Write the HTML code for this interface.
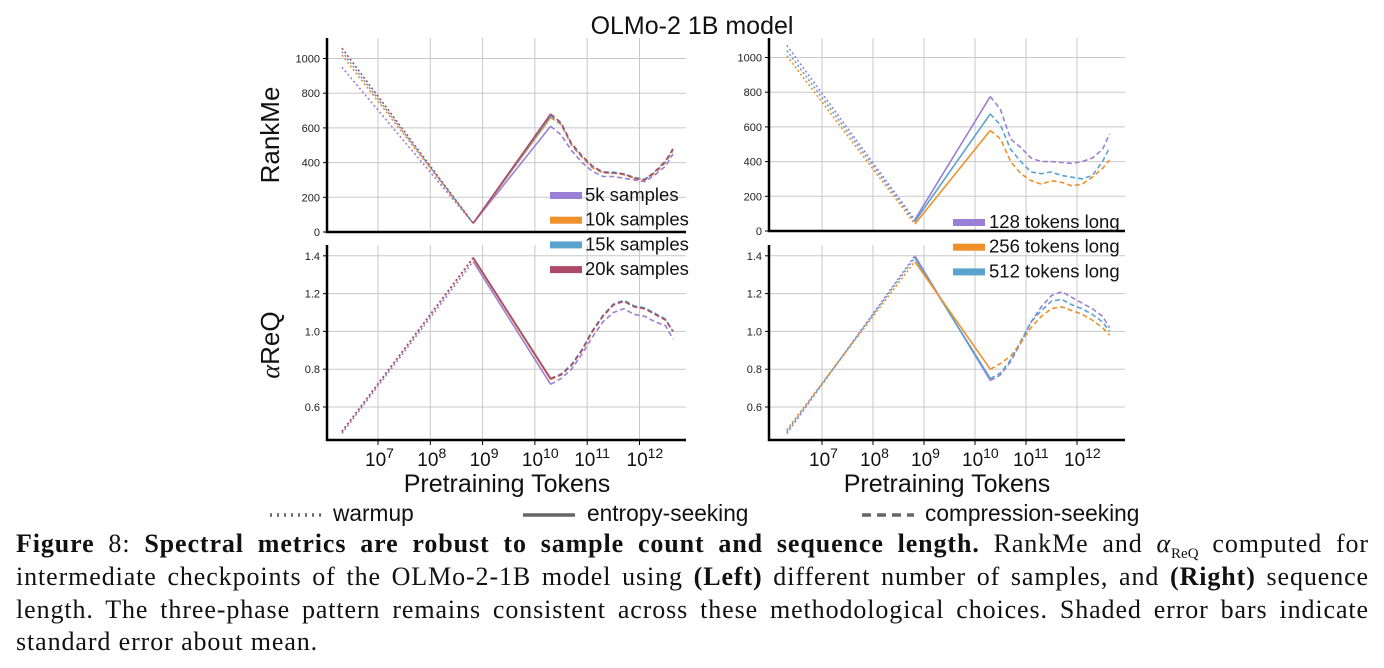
<!DOCTYPE html>
<html><head><meta charset="utf-8"><style>
body{margin:0;background:#fff;width:1384px;height:668px;overflow:hidden;font-family:"Liberation Sans",sans-serif}
svg{position:absolute;left:0;top:0}
.cap{position:absolute;left:16px;top:528px;width:1353px;font-family:"Liberation Serif",serif;font-size:26px;letter-spacing:0.9px;line-height:32.8px;color:#111}
.cap div{white-space:nowrap;text-align:justify;text-align-last:justify;height:32.8px}
.cap div.last{text-align-last:left}
.cap sub{font-size:15px;line-height:0;letter-spacing:0}
</style></head><body>
<svg id="chart" width="1384" height="530"></svg>
<div class="cap"><div><b>Figure</b> 8: <b>Spectral metrics are robust to sample count and sequence length.</b> RankMe and <i>α</i><sub>ReQ</sub> computed for</div><div>intermediate checkpoints of the OLMo-2-1B model using <b>(Left)</b> different number of samples, and <b>(Right)</b> sequence</div><div>length. The three-phase pattern remains consistent across these methodological choices. Shaded error bars indicate</div><div class="last">standard error about mean.</div></div>
<script>
const phaseX=[6.31,8.82,10.3];
const compX=[10.3,10.5,10.7,10.9,11.1,11.3,11.5,11.7,11.9,12.1,12.3,12.5,12.64];
const decades=[7,8,9,10,11,12];
const leftNames=["5k samples","10k samples","15k samples","20k samples"];
const rightNames=["128 tokens long","256 tokens long","512 tokens long"];
const colors={p:"#9a7fd6",o:"#f0902a",b:"#5aa3cf",r:"#ad4a68"};
const LR_p=[950,50,610,560,470,400,350,320,320,310,300,290,330,380,450];
const LR_o=[1020,50,660,620,500,430,370,340,340,330,310,300,340,400,470];
const LR_b=[1040,50,670,625,505,435,375,345,345,335,315,305,345,405,475];
const LR_r=[1060,50,680,630,510,440,380,345,340,335,310,300,350,410,480];
const LA_p=[0.46,1.37,0.72,0.75,0.80,0.88,0.97,1.05,1.10,1.12,1.09,1.08,1.05,1.03,0.96];
const LA_o=[0.47,1.385,0.745,0.77,0.82,0.90,1.00,1.08,1.14,1.16,1.13,1.12,1.09,1.06,1.00];
const LA_b=[0.47,1.39,0.75,0.775,0.825,0.905,1.005,1.085,1.145,1.165,1.135,1.125,1.095,1.065,1.00];
const LA_r=[0.47,1.39,0.75,0.77,0.82,0.90,1.00,1.08,1.14,1.16,1.13,1.12,1.09,1.06,1.00];
const RR_p=[1070,65,775,700,530,480,420,400,400,395,390,400,420,470,560];
const RR_o=[1010,40,580,530,400,330,290,270,290,280,260,270,310,360,410];
const RR_b=[1040,55,675,610,470,400,340,330,340,320,310,300,320,400,480];
const RA_p=[0.46,1.40,0.74,0.77,0.84,0.94,1.05,1.13,1.19,1.21,1.18,1.15,1.12,1.08,1.02];
const RA_o=[0.48,1.37,0.80,0.83,0.87,0.94,1.02,1.08,1.12,1.13,1.11,1.09,1.06,1.02,0.98];
const RA_b=[0.47,1.39,0.75,0.78,0.85,0.95,1.05,1.11,1.16,1.17,1.14,1.12,1.09,1.05,1.00];
const rankTicks=[0,200,400,600,800,1000];
const alphaTicks=[0.6,0.8,1.0,1.2,1.4];

const svg=document.getElementById('chart');
const NS="http://www.w3.org/2000/svg";
function el(tag,attrs,parent){const e=document.createElementNS(NS,tag);for(const k in attrs)e.setAttribute(k,attrs[k]);(parent||svg).appendChild(e);return e;}
function txt(s,attrs){const t=el('text',attrs);t.textContent=s;return t;}

function panel(p){
  const g=el('g',{});
  
  
  decades.forEach(d=>{const x=p.xs(d);const l=el('line',{x1:x,x2:x,y1:p.top,y2:p.bottom,stroke:'#c8c8c8','stroke-width':1},g);
    });
  p.ticks.forEach(v=>{const y=p.ys(v);const l=el('line',{x1:p.left,x2:p.right,y1:y,y2:y,stroke:'#c8c8c8','stroke-width':1},g);
    
    el('line',{x1:p.left-4,x2:p.left,y1:y,y2:y,stroke:'#000'},g);
    const t=txt(p.fmt(v),{x:p.left-7,y:y+4,'font-size':11,'text-anchor':'end',fill:'#222'});
    });
  const ax=el('path',{d:`M${p.left} ${p.top}V${p.bottom}H${p.right}`,fill:'none',stroke:'#000','stroke-width':2.5},g);
  
  if(p.xlabels){decades.forEach(d=>{const x=p.xs(d);el('line',{x1:x,x2:x,y1:p.bottom,y2:p.bottom+5,stroke:'#000'},g);
    const t=el('text',{x:x-13,y:p.bottom+26,'font-size':19,fill:'#111'});t.textContent='10';
    const s=el('tspan',{dy:-8,'font-size':14},t);s.textContent=d;
    });}
  p.series.forEach(s=>{
    const pts=phaseX.concat(compX.slice(1)).map((x,i)=>[p.xs(x),p.ys(s.v[i])]);
    const seg=(a,b)=>'M'+pts.slice(a,b).map(q=>q[0].toFixed(1)+' '+q[1].toFixed(1)).join('L');
    const a=el('path',{d:seg(0,2),fill:'none',stroke:s.c,'stroke-width':1.6,'stroke-dasharray':'2 2.5'},g);
    
    const b=el('path',{d:seg(1,3),fill:'none',stroke:s.c,'stroke-width':1.6},g);
    
    const c=el('path',{d:seg(2,pts.length),fill:'none',stroke:s.c,'stroke-width':1.6,'stroke-dasharray':'5 3'},g);
    
  });
}
const xsL=l=>378+(l-7)*52.3, xsR=l=>822+(l-7)*51;
const ysRank=(v,z)=>z-v*0.1735;
const ysA=v=>407-(v-0.6)/0.2*37.8;
panel({name:'left-rankme-panel',left:327,right:686,top:38,bottom:232,xs:xsL,ys:v=>ysRank(v,232),ticks:rankTicks,fmt:v=>v,
  series:[{v:LR_p,c:colors.p},{v:LR_o,c:colors.o},{v:LR_b,c:colors.b},{v:LR_r,c:colors.r}]});
panel({name:'left-alpha-panel',left:327,right:686,top:245,bottom:440,xs:xsL,ys:ysA,ticks:alphaTicks,fmt:v=>v.toFixed(1),xlabels:true,
  series:[{v:LA_p,c:colors.p},{v:LA_o,c:colors.o},{v:LA_b,c:colors.b},{v:LA_r,c:colors.r}]});
panel({name:'right-rankme-panel',left:769,right:1125,top:38,bottom:231,xs:xsR,ys:v=>ysRank(v,231),ticks:rankTicks,fmt:v=>v,
  series:[{v:RR_p,c:colors.p},{v:RR_b,c:colors.b},{v:RR_o,c:colors.o}]});
panel({name:'right-alpha-panel',left:769,right:1125,top:245,bottom:440,xs:xsR,ys:ysA,ticks:alphaTicks,fmt:v=>v.toFixed(1),xlabels:true,
  series:[{v:RA_p,c:colors.p},{v:RA_b,c:colors.b},{v:RA_o,c:colors.o}]});

let t=txt('OLMo-2 1B model',{x:692,y:34,'font-size':25,'text-anchor':'middle',fill:'#111'});

t=txt('RankMe',{x:0,y:0,'font-size':26,'text-anchor':'middle',fill:'#111',transform:'translate(279,135) rotate(-90)'});

t=el('text',{x:0,y:0,'font-size':26,'text-anchor':'middle',fill:'#111',transform:'translate(279,345) rotate(-90)'});
const ti=el('tspan',{'font-style':'italic','font-family':'Liberation Serif,serif'},t);ti.textContent='α';
const t2=el('tspan',{},t);t2.textContent='ReQ';

[[507,'x-axis-title-left'],[947,'x-axis-title-right']].forEach(([x,n])=>{const q=txt('Pretraining Tokens',{x:x,y:492,'font-size':25,'text-anchor':'middle',fill:'#111'});
  });
const legL=[colors.p,colors.o,colors.b,colors.r];
leftNames.forEach((n,i)=>{const y=195+i*24.7;el('rect',{x:550,y:y-3,width:32,height:7,fill:legL[i]});
  const q=txt(n,{x:585,y:y+6,'font-size':18.5,fill:'#111'});});
const legR=[colors.p,colors.o,colors.b];
rightNames.forEach((n,i)=>{const y=222+i*24.7;el('rect',{x:953,y:y-3,width:32,height:7,fill:legR[i]});
  const q=txt(n,{x:989,y:y+6,'font-size':18.5,fill:'#111'});});
const styl=[[270,'warmup','2 5',333],[523,'entropy-seeking','',587],[862,'compression-seeking','9 6',925]];
styl.forEach(([x,n,da,tx])=>{el('line',{x1:x,x2:x+52,y1:515,y2:515,stroke:'#666','stroke-width':3.5,'stroke-dasharray':da});
  const q=txt(n,{x:tx,y:521,'font-size':22.7,fill:'#111'});});
</script>
</body></html>
